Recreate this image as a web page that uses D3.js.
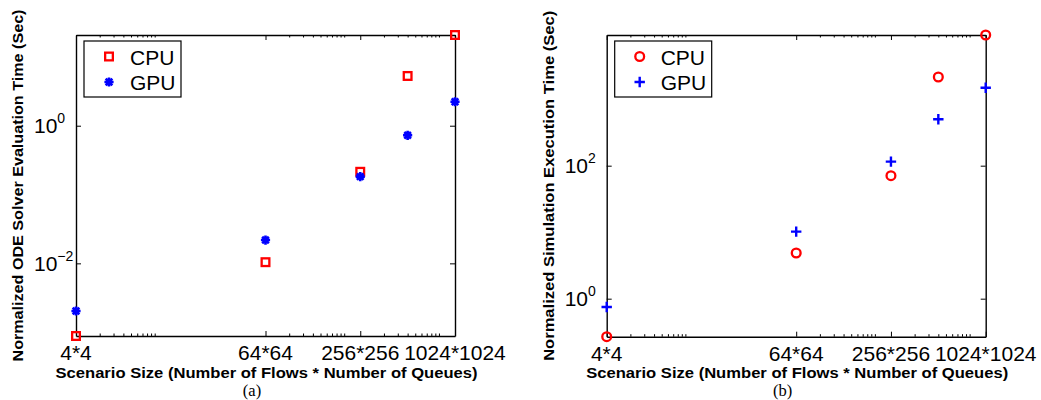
<!DOCTYPE html>
<html><head><meta charset="utf-8">
<script src="https://cdn.jsdelivr.net/npm/d3@7"></script>
<style>body{margin:0;background:#fff} svg{display:block}</style>
</head><body>
<svg id="chart" width="1041" height="400"></svg>
<script>
// ---- data ----
const scenarioLabels = ["4*4", "64*64", "256*256", "1024*1024"];
const scenarioTicks = [16, 4096, 65536, 1048576];
const sizes = [16, 4096, 65536, 262144, 1048576];
const odeCPU = [8.8e-4, 0.0104, 0.214, 5.28, 20.8];
const odeGPU = [2.03e-3, 0.0218, 0.182, 0.725, 2.23];
const simCPU = [0.268, 4.87, 70.7, 2157, 9230];
const simGPU = [0.75, 10.2, 115, 499, 1489];
const seriesNames = ["CPU", "GPU"];
const odeYTicks = [1e-2, 1e0];
const simYTicks = [1e0, 1e2];

// ---- layout ----
const svg = d3.select("#chart");
const RED = "#ff0000", BLUE = "#0000ff";
const SANS = "'Liberation Sans', Arial, Helvetica, sans-serif";

const panels = [
  {left: 76, right: 455, top: 35, bottom: 336, cpu: odeCPU, gpu: odeGPU, yTicks: odeYTicks,
   ylabel: "Normalized ODE Solver Evaluation Time (Sec)", ylabelX: 22.5, ylabelLen: 352, caption: "(a)",
   cpuShape: "square", gpuShape: "asterisk"},
  {left: 606.7, right: 985.7, top: 35, bottom: 336.7, cpu: simCPU, gpu: simGPU, yTicks: simYTicks,
   ylabel: "Normalized Simulation Execution Time (Sec)", ylabelX: 554, ylabelLen: 350, caption: "(b)",
   cpuShape: "circle", gpuShape: "plus"}
];

// MATLAB-style minor ticks between custom major ticks: major*k, k=2..10
function minorTicks(majors) {
  const out = [];
  for (let i = 0; i < majors.length - 1; i++) {
    for (let k = 2; k <= 10; k++) {
      const v = majors[i] * k;
      if (v < majors[i + 1]) out.push(v);
    }
  }
  return out;
}

function drawMarker(g, shape, cx, cy) {
  if (shape === "square") {
    const s = 7.7;
    g.append("rect").attr("x", cx - s / 2).attr("y", cy - s / 2).attr("width", s).attr("height", s)
      .attr("fill", "none").attr("stroke", RED).attr("stroke-width", 2.3);
  } else if (shape === "circle") {
    g.append("circle").attr("cx", cx).attr("cy", cy).attr("r", 4.4)
      .attr("fill", "none").attr("stroke", RED).attr("stroke-width", 2.3);
  } else if (shape === "plus") {
    const r = 5.2;
    g.append("path").attr("d", `M${cx - r},${cy}H${cx + r}M${cx},${cy - r}V${cy + r}`)
      .attr("stroke", BLUE).attr("stroke-width", 2.4).attr("fill", "none");
  } else if (shape === "asterisk") {
    const r = 4.6, d = r * 0.72;
    g.append("path").attr("d",
      `M${cx - r},${cy}H${cx + r}M${cx},${cy - r}V${cy + r}M${cx - d},${cy - d}L${cx + d},${cy + d}M${cx - d},${cy + d}L${cx + d},${cy - d}`)
      .attr("stroke", BLUE).attr("stroke-width", 2.6).attr("fill", "none");
  }
}

panels.forEach(p => {
  const g = svg.append("g");
  const x = d3.scaleLog().domain(d3.extent(scenarioTicks)).range([p.left, p.right]);
  const y = d3.scaleLog().domain(d3.extent(p.cpu.concat(p.gpu))).range([p.bottom, p.top]);
  const minors = minorTicks(scenarioTicks);

  const styleAxis = sel => {
    sel.selectAll("path.domain").attr("stroke", "#000").attr("stroke-width", 1.4);
    sel.selectAll(".tick line").attr("stroke", "#000").attr("stroke-width", 1);
  };

  // major x ticks bottom/top
  g.append("g").attr("transform", `translate(0,${p.bottom})`)
    .call(d3.axisBottom(x).tickValues(scenarioTicks).tickSizeInner(-5).tickSizeOuter(0).tickFormat(""))
    .call(styleAxis);
  g.append("g").attr("transform", `translate(0,${p.top})`)
    .call(d3.axisTop(x).tickValues(scenarioTicks).tickSizeInner(-5).tickSizeOuter(0).tickFormat(""))
    .call(styleAxis);
  // minor x ticks
  g.append("g").attr("transform", `translate(0,${p.bottom})`)
    .call(d3.axisBottom(x).tickValues(minors).tickSizeInner(-2.5).tickSizeOuter(0).tickFormat(""))
    .call(s => s.select("path.domain").remove()).call(styleAxis);
  g.append("g").attr("transform", `translate(0,${p.top})`)
    .call(d3.axisTop(x).tickValues(minors).tickSizeInner(-2.5).tickSizeOuter(0).tickFormat(""))
    .call(s => s.select("path.domain").remove()).call(styleAxis);
  // y axes left/right
  g.append("g").attr("transform", `translate(${p.left},0)`)
    .call(d3.axisLeft(y).tickValues(p.yTicks).tickSizeInner(-5).tickSizeOuter(0).tickFormat(""))
    .call(styleAxis);
  g.append("g").attr("transform", `translate(${p.right},0)`)
    .call(d3.axisRight(y).tickValues(p.yTicks).tickSizeInner(-5).tickSizeOuter(0).tickFormat(""))
    .call(styleAxis);

  // x tick labels
  g.selectAll("text.xl").data(scenarioTicks).join("text").attr("class", "xl")
    .attr("x", (d) => x(d)).attr("y", p.bottom + 24)
    .attr("text-anchor", "middle").attr("font-family", SANS).attr("font-size", 21)
    .attr("fill", "#000").text((d, i) => scenarioLabels[i]);

  // y tick labels 10^k
  p.yTicks.forEach(v => {
    const e = Math.round(Math.log10(v));
    const t = g.append("text").attr("x", p.left - 42).attr("y", y(v) + 7.5)
      .attr("font-family", SANS).attr("font-size", 21).attr("fill", "#000");
    t.append("tspan").text("10");
    t.append("tspan").attr("dy", -10).attr("font-size", 14).text(String(e).replace("-", "\u2212"));
  });

  // axis titles
  g.append("text").attr("x", (p.left + p.right) / 2 + 1).attr("y", 377.8)
    .attr("text-anchor", "middle").attr("font-family", SANS).attr("font-weight", "bold")
    .attr("font-size", 15).attr("textLength", 422).attr("lengthAdjust", "spacingAndGlyphs")
    .attr("fill", "#000")
    .text("Scenario Size (Number of Flows * Number of Queues)");
  g.append("text").attr("transform", `translate(${p.ylabelX},${(p.top + p.bottom) / 2}) rotate(-90)`)
    .attr("text-anchor", "middle").attr("font-family", SANS).attr("font-weight", "bold")
    .attr("font-size", 15).attr("textLength", p.ylabelLen).attr("lengthAdjust", "spacingAndGlyphs")
    .attr("fill", "#000").text(p.ylabel);
  g.append("text").attr("x", (p.left + p.right) / 2 - 13.5).attr("y", 396)
    .attr("text-anchor", "middle").attr("font-family", "'Liberation Serif', 'Times New Roman', serif")
    .attr("font-size", 16.5).attr("fill", "#000").text(p.caption);

  // data points
  const mk = g.append("g");
  sizes.forEach((s, i) => drawMarker(mk, p.cpuShape, x(s), y(p.cpu[i])));
  sizes.forEach((s, i) => drawMarker(mk, p.gpuShape, x(s), y(p.gpu[i])));

  // legend
  const lg = g.append("g");
  lg.append("rect").attr("x", p.left + 8).attr("y", 41).attr("width", 97).attr("height", 56)
    .attr("fill", "#fff").attr("stroke", "#000").attr("stroke-width", 1.2);
  const shapes = [p.cpuShape, p.gpuShape];
  seriesNames.forEach((n, i) => {
    const cy = 56.5 + i * 25.5;
    drawMarker(lg, shapes[i], p.left + 33, cy);
    lg.append("text").attr("x", p.left + 54).attr("y", cy + 8)
      .attr("font-family", SANS).attr("font-size", 21).attr("fill", "#000").text(n);
  });
});
</script>
</body></html>
